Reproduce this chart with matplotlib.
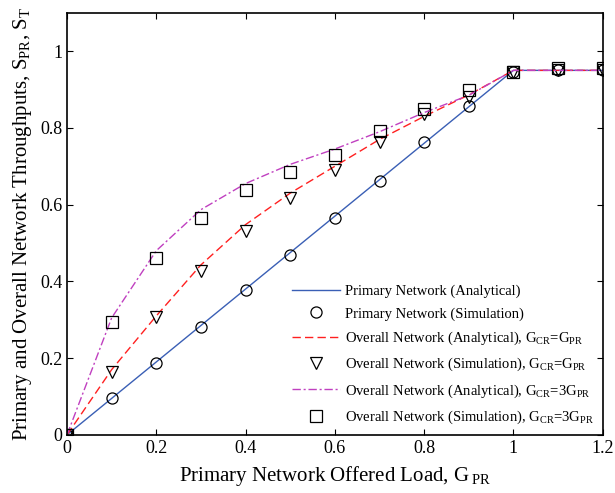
import numpy as np
import matplotlib
matplotlib.use("Agg")
import matplotlib.pyplot as plt

# ------------------------------------------------------------------
#                            Data
# ------------------------------------------------------------------

g_pr = [0, 0.1, 0.2, 0.3, 0.4, 0.5, 0.6, 0.7, 0.8, 0.9, 1.0, 1.1, 1.2]

prim_ana = [0, 0.095, 0.19, 0.285, 0.38, 0.475, 0.57, 0.665, 0.76, 0.855, 0.95, 0.95, 0.95]
prim_sim = [0, 0.096, 0.188, 0.282, 0.378, 0.469, 0.566, 0.662, 0.764, 0.858, 0.945, 0.952, 0.952]

ovr1_ana = [0, 0.17, 0.31, 0.443, 0.548, 0.63, 0.70, 0.77, 0.83, 0.886, 0.95, 0.95, 0.95]
ovr1_sim = [0, 0.164, 0.308, 0.428, 0.53, 0.618, 0.69, 0.764, 0.835, 0.88, 0.945, 0.95, 0.95]

ovr3_ana = [0, 0.305, 0.48, 0.587, 0.655, 0.705, 0.745, 0.79, 0.84, 0.885, 0.95, 0.95, 0.95]
ovr3_sim = [0, 0.295, 0.462, 0.566, 0.639, 0.686, 0.73, 0.793, 0.85, 0.90, 0.947, 0.955, 0.955]

# ------------------------------------------------------------------
#                            Plot
# ------------------------------------------------------------------

plt.rcParams['font.family'] = ['Liberation Serif', 'DejaVu Serif']
plt.rcParams['mathtext.fontset'] = 'custom'
plt.rcParams['mathtext.rm'] = 'Liberation Serif'
plt.rcParams['mathtext.it'] = 'Liberation Serif'

fig = plt.figure(figsize=(6.15, 4.93), dpi=100)
ax = fig.add_axes([0.109, 0.118, 0.871, 0.856])

ax.plot(g_pr, prim_ana, '-', color='#3a5fb5', lw=1.0, label='Primary Network (Analytical)')
ax.plot(g_pr, prim_sim, 'o', mfc='none', mec='black', ms=8, mew=0.9,
        label='Primary Network (Simulation)')
ax.plot(g_pr, ovr1_ana, '--', color='#ff2020', lw=1.0, dashes=(6, 3),
        label=r'Overall Network (Analytical), G$_{\rm CR}$=G$_{\rm PR}$')
ax.plot(g_pr, ovr1_sim, 'v', mfc='none', mec='black', ms=9, mew=0.9,
        label=r'Overall Network (Simulation), G$_{\rm CR}$=G$_{\rm PR}$')
ax.plot(g_pr, ovr3_ana, '-.', color='#c040c0', lw=1.0, dashes=(6, 2, 1.5, 2),
        label=r'Overall Network (Analytical), G$_{\rm CR}$=3G$_{\rm PR}$')
ax.plot(g_pr, ovr3_sim, 's', mfc='none', mec='black', ms=9, mew=0.9,
        label=r'Overall Network (Simulation), G$_{\rm CR}$=3G$_{\rm PR}$')

ax.set_xlim(0, 1.2)
ax.set_ylim(0, 1.1)
ax.set_xticks([0, 0.2, 0.4, 0.6, 0.8, 1, 1.2])
ax.set_xticklabels(['0', '0.2', '0.4', '0.6', '0.8', '1', '1.2'])
ax.set_yticks([0, 0.2, 0.4, 0.6, 0.8, 1])
ax.set_yticklabels(['0', '0.2', '0.4', '0.6', '0.8', '1'])
ax.tick_params(direction='in', top=True, right=True, labelsize=13, length=4)
for s in ax.spines.values():
    s.set_linewidth(1.2)

ax.set_xlabel(r'Primary Network Offered Load, G$\,_{\rm PR}$', fontsize=15, labelpad=5)
ax.set_ylabel(r'Primary and Overall Network Throughputs, S$_{\rm PR}$, S$_{\rm T}$',
              fontsize=15, labelpad=4)

ax.legend(loc='lower right', frameon=False, fontsize=10.5, handlelength=3.3,
          handletextpad=0.35, labelspacing=0.62, borderaxespad=0.2,
          bbox_to_anchor=(1.0, 0.0))

fig.savefig('out.png', dpi=100)
